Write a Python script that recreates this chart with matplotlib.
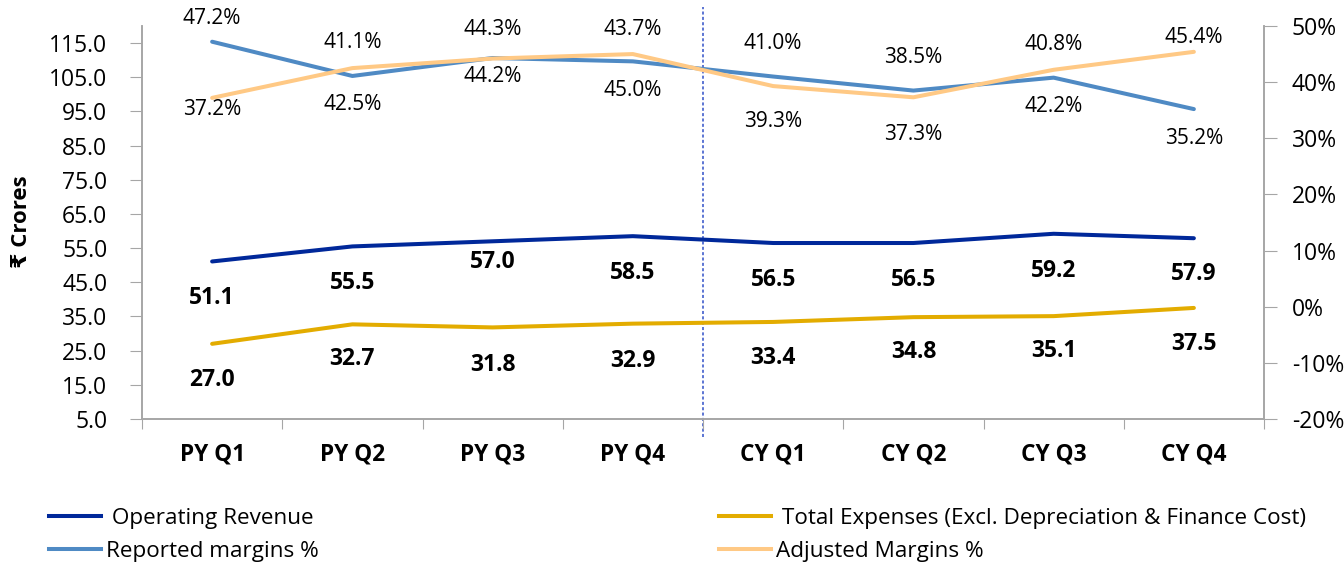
import matplotlib
matplotlib.use('Agg')
import matplotlib.pyplot as plt
import numpy as np
from matplotlib.ticker import FixedLocator, FuncFormatter, NullFormatter
from matplotlib.lines import Line2D

quarters = ['PY Q1', 'PY Q2', 'PY Q3', 'PY Q4', 'CY Q1', 'CY Q2', 'CY Q3', 'CY Q4']
operating_revenue = [51.1, 55.5, 57.0, 58.5, 56.5, 56.5, 59.2, 57.9]
total_expenses = [27.0, 32.7, 31.8, 32.9, 33.4, 34.8, 35.1, 37.5]
reported_margins = [47.2, 41.1, 44.3, 43.7, 41.0, 38.5, 40.8, 35.2]
adjusted_margins = [37.2, 42.5, 44.2, 45.0, 39.3, 37.3, 42.2, 45.4]

# label offsets in pixels (positive = above the line)
rev_off = [-37, -37, -21, -37, -37, -37, -37, -36]
exp_off = [-36, -35, -38, -37, -36, -35, -35, -36]
rep_off = [23, 33, 29, 32, 33, 33, 33, -29]
adj_off = [-12, -36, -18, -36, -35, -37, -37, 14]

c_rev = '#00289A'
c_exp = '#E3AC00'
c_rep = '#4F8AC4'
c_adj = '#FFC985'
grey = '#A6A6A6'

plt.rcParams['font.family'] = ['Open Sans', 'DejaVu Sans']

fig = plt.figure(figsize=(13.44, 5.63), dpi=100)
ax = fig.add_axes([142/1344, 1 - 419/563, (1264 - 142)/1344, (419 - 26)/563])
ax2 = ax.twinx()

x = np.arange(len(quarters))
ax.plot(x, operating_revenue, color=c_rev, lw=2.9, solid_capstyle='round', zorder=3)
ax.plot(x, total_expenses, color=c_exp, lw=2.9, solid_capstyle='round', zorder=3)
ax2.plot(x, reported_margins, color=c_rep, lw=2.9, solid_capstyle='round', zorder=2)
ax2.plot(x, adjusted_margins, color=c_adj, lw=2.9, solid_capstyle='round', zorder=3)

for i in range(len(x)):
    ax.annotate('%.1f' % operating_revenue[i], (x[i], operating_revenue[i]),
                xytext=(0, rev_off[i]), textcoords='offset pixels',
                ha='center', va='center', fontsize=16.5, fontweight='bold')
    ax.annotate('%.1f' % total_expenses[i], (x[i], total_expenses[i]),
                xytext=(0, exp_off[i]), textcoords='offset pixels',
                ha='center', va='center', fontsize=16.5, fontweight='bold')
    ax2.annotate('%.1f%%' % reported_margins[i], (x[i], reported_margins[i]),
                 xytext=(0, rep_off[i]), textcoords='offset pixels',
                 ha='center', va='center', fontsize=15)
    ax2.annotate('%.1f%%' % adjusted_margins[i], (x[i], adjusted_margins[i]),
                 xytext=(0, adj_off[i]), textcoords='offset pixels',
                 ha='center', va='center', fontsize=15)

ax.set_xlim(-0.5, len(quarters) - 0.5)
ax.set_ylim(5, 120)
ax2.set_ylim(-20, 50)

ax.xaxis.set_major_locator(FixedLocator(np.arange(-0.5, len(quarters), 1.0)))
ax.xaxis.set_major_formatter(NullFormatter())
ax.xaxis.set_minor_locator(FixedLocator(x))
ax.set_xticklabels(quarters, minor=True, fontsize=16.3, fontweight='bold')
ax.tick_params(axis='x', which='major', length=7, color=grey, direction='out')
ax.tick_params(axis='x', which='minor', length=0, pad=17)

ax.set_yticks(np.arange(5, 116, 10))
ax.yaxis.set_major_formatter(FuncFormatter(lambda v, p: '%.1f' % v))
ax.tick_params(axis='y', length=9, color=grey, pad=16, labelsize=16.5)
ax2.set_yticks(np.arange(-20, 51, 10))
ax2.yaxis.set_major_formatter(FuncFormatter(lambda v, p: '%d%%' % v))
ax2.tick_params(axis='y', length=9, color=grey, pad=11, labelsize=16.5)

for a in (ax, ax2):
    a.spines['top'].set_visible(False)
    for s in ('left', 'right', 'bottom'):
        a.spines[s].set_color(grey)
        a.spines[s].set_linewidth(1.2)

ax.axvline(3.5, ymin=-0.046, ymax=1.048, color='#3050C8', lw=1.1,
           linestyle=(0, (2, 1.5)), clip_on=False, zorder=1)

fig.text(22/1344, 1 - 222/563, '₹ Crores', rotation=90, ha='center', va='center',
         fontsize=16, fontweight='bold')

h1 = [Line2D([], [], color=c_rev, lw=2.9), Line2D([], [], color=c_rep, lw=2.9)]
h2 = [Line2D([], [], color=c_exp, lw=2.9), Line2D([], [], color=c_adj, lw=2.9)]
fig.legend(h1, [' Operating Revenue', 'Reported margins %'], loc='upper left',
           bbox_to_anchor=(38/1344, 1 - 497/563), frameon=False, fontsize=16.2,
           handlelength=2.3, handletextpad=0.2, labelspacing=0.5, borderpad=0)
fig.legend(h2, [' Total Expenses (Excl. Depreciation & Finance Cost)', 'Adjusted Margins %'],
           loc='upper left', bbox_to_anchor=(708/1344, 1 - 497/563), frameon=False,
           fontsize=16.2, handlelength=2.3, handletextpad=0.2, labelspacing=0.5, borderpad=0)

fig.savefig('out.png', dpi=100)
